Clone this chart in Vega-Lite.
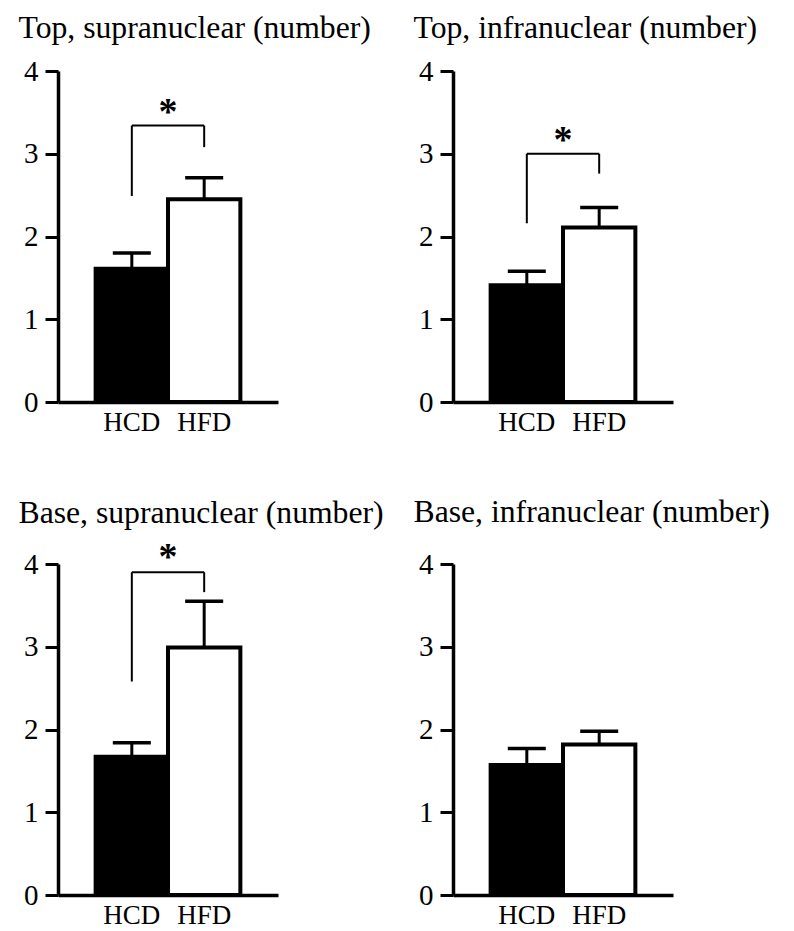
{
  "$schema": "https://vega.github.io/schema/vega-lite/v6.json",
  "padding": {"left": 18, "top": 13, "right": 5, "bottom": 5},
  "background": "white",
  "datasets": {
    "bars": [
      {"panel": "TS", "group": "HCD", "mean": 1.61, "upper": 1.80},
      {"panel": "TS", "group": "HFD", "mean": 2.45, "upper": 2.71},
      {"panel": "TI", "group": "HCD", "mean": 1.41, "upper": 1.58},
      {"panel": "TI", "group": "HFD", "mean": 2.11, "upper": 2.35},
      {"panel": "BS", "group": "HCD", "mean": 1.67, "upper": 1.84},
      {"panel": "BS", "group": "HFD", "mean": 2.99, "upper": 3.55},
      {"panel": "BI", "group": "HCD", "mean": 1.57, "upper": 1.77},
      {"panel": "BI", "group": "HFD", "mean": 1.82, "upper": 1.98}
    ],
    "brackets": [
      {"panel": "TS", "g1": "HCD", "g2": "HFD", "top": 3.34, "left_bottom": 2.49, "right_bottom": 3.08, "star": 3.58, "label": "*"},
      {"panel": "TI", "g1": "HCD", "g2": "HFD", "top": 3.0, "left_bottom": 2.16, "right_bottom": 2.76, "star": 3.24, "label": "*"},
      {"panel": "BS", "g1": "HCD", "g2": "HFD", "top": 3.9, "left_bottom": 2.58, "right_bottom": 3.66, "star": 4.16, "label": "*"}
    ]
  },
  "columns": 2,
  "bounds": "flush",
  "spacing": {"column": 175, "row": 162},
  "concat": [
    {
      "title": {"text": "Top, supranuclear (number)", "offset": 12},
      "width": 220, "height": 331,
      "layer": [
        {"data": {"name": "bars"}, "transform": [{"filter": "datum.panel === 'TS'"}],
         "mark": {"type": "bar", "stroke": "black", "strokeWidth": 4},
         "encoding": {
           "x": {"field": "group", "type": "nominal", "title": null, "sort": ["HCD", "HFD"]},
           "y": {"field": "mean", "type": "quantitative", "title": null, "scale": {"domain": [0, 4]}, "axis": {"values": [0, 1, 2, 3, 4], "format": "d"}},
           "fill": {"field": "group", "type": "nominal", "scale": {"domain": ["HCD", "HFD"], "range": ["black", "white"]}, "legend": null}}},
        {"data": {"name": "bars"}, "transform": [{"filter": "datum.panel === 'TS'"}],
         "mark": {"type": "rule", "color": "black", "strokeWidth": 3},
         "encoding": {
           "x": {"field": "group", "type": "nominal", "title": null},
           "y": {"field": "mean", "type": "quantitative", "title": null, "scale": {"domain": [0, 4]}},
           "y2": {"field": "upper"}}},
        {"data": {"name": "bars"}, "transform": [{"filter": "datum.panel === 'TS'"}],
         "mark": {"type": "tick", "color": "black", "opacity": 1, "size": 38, "thickness": 3.5},
         "encoding": {
           "x": {"field": "group", "type": "nominal", "title": null},
           "y": {"field": "upper", "type": "quantitative", "title": null, "scale": {"domain": [0, 4]}}}},
        {"data": {"name": "brackets"}, "transform": [{"filter": "datum.panel === 'TS'"}],
         "mark": {"type": "rule", "color": "black", "strokeWidth": 2},
         "encoding": {
           "x": {"field": "g1", "type": "nominal", "title": null},
           "y": {"field": "left_bottom", "type": "quantitative", "title": null, "scale": {"domain": [0, 4]}},
           "y2": {"field": "top"}}},
        {"data": {"name": "brackets"}, "transform": [{"filter": "datum.panel === 'TS'"}],
         "mark": {"type": "rule", "color": "black", "strokeWidth": 2},
         "encoding": {
           "x": {"field": "g2", "type": "nominal", "title": null},
           "y": {"field": "right_bottom", "type": "quantitative", "title": null, "scale": {"domain": [0, 4]}},
           "y2": {"field": "top"}}},
        {"data": {"name": "brackets"}, "transform": [{"filter": "datum.panel === 'TS'"}],
         "mark": {"type": "rule", "color": "black", "strokeWidth": 2},
         "encoding": {
           "x": {"field": "g1", "type": "nominal", "title": null},
           "x2": {"field": "g2"},
           "y": {"field": "top", "type": "quantitative", "title": null, "scale": {"domain": [0, 4]}}}},
        {"data": {"name": "brackets"}, "transform": [{"filter": "datum.panel === 'TS'"}],
         "mark": {"type": "text", "font": "Liberation Serif", "fontSize": 38, "fontWeight": "bold", "color": "black", "align": "center", "baseline": "alphabetic", "dy": 18},
         "encoding": {
           "x": {"field": "g1", "type": "nominal", "title": null, "bandPosition": 1},
           "y": {"field": "star", "type": "quantitative", "title": null, "scale": {"domain": [0, 4]}},
           "text": {"field": "label"}}}
      ]
    },
    {
      "title": {"text": "Top, infranuclear (number)", "offset": 12},
      "width": 220, "height": 331,
      "layer": [
        {"data": {"name": "bars"}, "transform": [{"filter": "datum.panel === 'TI'"}],
         "mark": {"type": "bar", "stroke": "black", "strokeWidth": 4},
         "encoding": {
           "x": {"field": "group", "type": "nominal", "title": null, "sort": ["HCD", "HFD"]},
           "y": {"field": "mean", "type": "quantitative", "title": null, "scale": {"domain": [0, 4]}, "axis": {"values": [0, 1, 2, 3, 4], "format": "d"}},
           "fill": {"field": "group", "type": "nominal", "scale": {"domain": ["HCD", "HFD"], "range": ["black", "white"]}, "legend": null}}},
        {"data": {"name": "bars"}, "transform": [{"filter": "datum.panel === 'TI'"}],
         "mark": {"type": "rule", "color": "black", "strokeWidth": 3},
         "encoding": {
           "x": {"field": "group", "type": "nominal", "title": null},
           "y": {"field": "mean", "type": "quantitative", "title": null, "scale": {"domain": [0, 4]}},
           "y2": {"field": "upper"}}},
        {"data": {"name": "bars"}, "transform": [{"filter": "datum.panel === 'TI'"}],
         "mark": {"type": "tick", "color": "black", "opacity": 1, "size": 38, "thickness": 3.5},
         "encoding": {
           "x": {"field": "group", "type": "nominal", "title": null},
           "y": {"field": "upper", "type": "quantitative", "title": null, "scale": {"domain": [0, 4]}}}},
        {"data": {"name": "brackets"}, "transform": [{"filter": "datum.panel === 'TI'"}],
         "mark": {"type": "rule", "color": "black", "strokeWidth": 2},
         "encoding": {
           "x": {"field": "g1", "type": "nominal", "title": null},
           "y": {"field": "left_bottom", "type": "quantitative", "title": null, "scale": {"domain": [0, 4]}},
           "y2": {"field": "top"}}},
        {"data": {"name": "brackets"}, "transform": [{"filter": "datum.panel === 'TI'"}],
         "mark": {"type": "rule", "color": "black", "strokeWidth": 2},
         "encoding": {
           "x": {"field": "g2", "type": "nominal", "title": null},
           "y": {"field": "right_bottom", "type": "quantitative", "title": null, "scale": {"domain": [0, 4]}},
           "y2": {"field": "top"}}},
        {"data": {"name": "brackets"}, "transform": [{"filter": "datum.panel === 'TI'"}],
         "mark": {"type": "rule", "color": "black", "strokeWidth": 2},
         "encoding": {
           "x": {"field": "g1", "type": "nominal", "title": null},
           "x2": {"field": "g2"},
           "y": {"field": "top", "type": "quantitative", "title": null, "scale": {"domain": [0, 4]}}}},
        {"data": {"name": "brackets"}, "transform": [{"filter": "datum.panel === 'TI'"}],
         "mark": {"type": "text", "font": "Liberation Serif", "fontSize": 38, "fontWeight": "bold", "color": "black", "align": "center", "baseline": "alphabetic", "dy": 18},
         "encoding": {
           "x": {"field": "g1", "type": "nominal", "title": null, "bandPosition": 1},
           "y": {"field": "star", "type": "quantitative", "title": null, "scale": {"domain": [0, 4]}},
           "text": {"field": "label"}}}
      ]
    },
    {
      "title": {"text": "Base, supranuclear (number)", "offset": 9},
      "width": 220, "height": 331,
      "layer": [
        {"data": {"name": "bars"}, "transform": [{"filter": "datum.panel === 'BS'"}],
         "mark": {"type": "bar", "stroke": "black", "strokeWidth": 4},
         "encoding": {
           "x": {"field": "group", "type": "nominal", "title": null, "sort": ["HCD", "HFD"]},
           "y": {"field": "mean", "type": "quantitative", "title": null, "scale": {"domain": [0, 4]}, "axis": {"values": [0, 1, 2, 3, 4], "format": "d"}},
           "fill": {"field": "group", "type": "nominal", "scale": {"domain": ["HCD", "HFD"], "range": ["black", "white"]}, "legend": null}}},
        {"data": {"name": "bars"}, "transform": [{"filter": "datum.panel === 'BS'"}],
         "mark": {"type": "rule", "color": "black", "strokeWidth": 3},
         "encoding": {
           "x": {"field": "group", "type": "nominal", "title": null},
           "y": {"field": "mean", "type": "quantitative", "title": null, "scale": {"domain": [0, 4]}},
           "y2": {"field": "upper"}}},
        {"data": {"name": "bars"}, "transform": [{"filter": "datum.panel === 'BS'"}],
         "mark": {"type": "tick", "color": "black", "opacity": 1, "size": 38, "thickness": 3.5},
         "encoding": {
           "x": {"field": "group", "type": "nominal", "title": null},
           "y": {"field": "upper", "type": "quantitative", "title": null, "scale": {"domain": [0, 4]}}}},
        {"data": {"name": "brackets"}, "transform": [{"filter": "datum.panel === 'BS'"}],
         "mark": {"type": "rule", "color": "black", "strokeWidth": 2},
         "encoding": {
           "x": {"field": "g1", "type": "nominal", "title": null},
           "y": {"field": "left_bottom", "type": "quantitative", "title": null, "scale": {"domain": [0, 4]}},
           "y2": {"field": "top"}}},
        {"data": {"name": "brackets"}, "transform": [{"filter": "datum.panel === 'BS'"}],
         "mark": {"type": "rule", "color": "black", "strokeWidth": 2},
         "encoding": {
           "x": {"field": "g2", "type": "nominal", "title": null},
           "y": {"field": "right_bottom", "type": "quantitative", "title": null, "scale": {"domain": [0, 4]}},
           "y2": {"field": "top"}}},
        {"data": {"name": "brackets"}, "transform": [{"filter": "datum.panel === 'BS'"}],
         "mark": {"type": "rule", "color": "black", "strokeWidth": 2},
         "encoding": {
           "x": {"field": "g1", "type": "nominal", "title": null},
           "x2": {"field": "g2"},
           "y": {"field": "top", "type": "quantitative", "title": null, "scale": {"domain": [0, 4]}}}},
        {"data": {"name": "brackets"}, "transform": [{"filter": "datum.panel === 'BS'"}],
         "mark": {"type": "text", "font": "Liberation Serif", "fontSize": 38, "fontWeight": "bold", "color": "black", "align": "center", "baseline": "alphabetic", "dy": 18},
         "encoding": {
           "x": {"field": "g1", "type": "nominal", "title": null, "bandPosition": 1},
           "y": {"field": "star", "type": "quantitative", "title": null, "scale": {"domain": [0, 4]}},
           "text": {"field": "label"}}}
      ]
    },
    {
      "title": {"text": "Base, infranuclear (number)", "offset": 21},
      "width": 220, "height": 331,
      "layer": [
        {"data": {"name": "bars"}, "transform": [{"filter": "datum.panel === 'BI'"}],
         "mark": {"type": "bar", "stroke": "black", "strokeWidth": 4},
         "encoding": {
           "x": {"field": "group", "type": "nominal", "title": null, "sort": ["HCD", "HFD"]},
           "y": {"field": "mean", "type": "quantitative", "title": null, "scale": {"domain": [0, 4]}, "axis": {"values": [0, 1, 2, 3, 4], "format": "d"}},
           "fill": {"field": "group", "type": "nominal", "scale": {"domain": ["HCD", "HFD"], "range": ["black", "white"]}, "legend": null}}},
        {"data": {"name": "bars"}, "transform": [{"filter": "datum.panel === 'BI'"}],
         "mark": {"type": "rule", "color": "black", "strokeWidth": 3},
         "encoding": {
           "x": {"field": "group", "type": "nominal", "title": null},
           "y": {"field": "mean", "type": "quantitative", "title": null, "scale": {"domain": [0, 4]}},
           "y2": {"field": "upper"}}},
        {"data": {"name": "bars"}, "transform": [{"filter": "datum.panel === 'BI'"}],
         "mark": {"type": "tick", "color": "black", "opacity": 1, "size": 38, "thickness": 3.5},
         "encoding": {
           "x": {"field": "group", "type": "nominal", "title": null},
           "y": {"field": "upper", "type": "quantitative", "title": null, "scale": {"domain": [0, 4]}}}}
      ]
    }
  ],
  "config": {
    "view": {"stroke": null},
    "font": "Liberation Serif",
    "scale": {"bandPaddingInner": 0, "bandPaddingOuter": 0.52},
    "title": {"font": "Liberation Serif", "fontSize": 31.7, "fontWeight": "normal", "color": "black", "anchor": "start", "frame": "bounds", "dx": -5},
    "axis": {"grid": false, "domainColor": "black", "domainWidth": 3.5, "tickColor": "black", "labelColor": "black", "labelFont": "Liberation Serif"},
    "axisY": {"tickWidth": 3, "tickSize": 13, "labelFontSize": 29, "labelPadding": 7},
    "axisX": {"ticks": false, "labelFontSize": 27, "labelPadding": 7, "labelAngle": 0}
  }
}
